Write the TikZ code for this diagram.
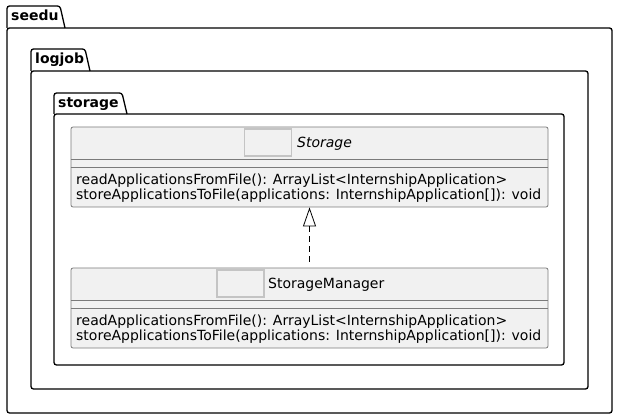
\documentclass[tikz,border=0pt]{standalone}
\usepackage{fontspec}
\setmainfont{DejaVu Sans}
\usetikzlibrary{arrows.meta,positioning}

\definecolor{umlfill}{HTML}{F1F1F1}
\definecolor{umlline}{HTML}{7A7A7A}
\definecolor{iconline}{HTML}{C4C4C4}

\tikzset{
  pkgframe/.style={line width=1.3pt, rounded corners=2.5pt},
  pkgname/.style={anchor=base west, inner sep=0pt, font=\fontsize{14}{16}\selectfont\bfseries},
  classbox/.style={draw=umlline, fill=umlfill, line width=0.8pt, rounded corners=2pt,
    minimum width=477pt, minimum height=80pt, inner sep=0pt},
  iconbox/.style={draw=iconline, fill=umlfill, line width=1.4pt,
    minimum width=47pt, minimum height=27pt, inner sep=0pt},
  member/.style={anchor=base west, inner sep=0pt, font=\fontsize{14}{15}\selectfont},
  realize/.style={dash pattern=on 6pt off 4pt, line width=0.8pt, shorten <=6pt,
    -{Triangle[open,length=19pt,width=13pt,line width=0.8pt]}}
}

\begin{document}
\begin{tikzpicture}[x=1pt,y=-1pt]
  \useasboundingbox (0,0) rectangle (618,419);

  % Packages
  \foreach \px/\ty/\fy/\tx/\rx/\by/\pname in
    {7/6/28/60/612/413/seedu, 31/49/71/85/588/389/logjob, 54/93/114/122/564/365/storage}
  {
    \draw[pkgframe] (\px,\fy) -- (\px,\ty) -- (\tx,\ty) -- (\tx+5,\fy);
    \draw[pkgframe] (\px,\fy) rectangle (\rx,\by);
    \node[pkgname] (pkg-\pname) at (\px+4,\ty+15) {\pname};
  }

  % Interface Storage
  \node[classbox] (storage) at (309.5,167) {};
  \draw[umlline, line width=0.8pt] (storage.west |- 0,159) -- (storage.east |- 0,159);
  \draw[umlline, line width=0.8pt] (storage.west |- 0,167) -- (storage.east |- 0,167);
  \node[iconbox] (storage-icon) at (268,142.5) {};
  \node[member, font=\fontsize{14}{15}\selectfont\itshape] (storage-name) at (297,148) {Storage};
  \node[member] (storage-read) at (76,185) {readApplicationsFromFile(): ArrayList<InternshipApplication>};
  \node[member] (storage-store) at (76,200) {storeApplicationsToFile(applications: InternshipApplication[]): void};

  % Class StorageManager
  \node[classbox] (manager) at (309.5,308) {};
  \draw[umlline, line width=0.8pt] (manager.west |- 0,300) -- (manager.east |- 0,300);
  \draw[umlline, line width=0.8pt] (manager.west |- 0,308) -- (manager.east |- 0,308);
  \node[iconbox] (manager-icon) at (240.5,283.5) {};
  \node[member] (manager-name) at (268,289) {StorageManager};
  \node[member] (manager-read) at (76,326) {readApplicationsFromFile(): ArrayList<InternshipApplication>};
  \node[member] (manager-store) at (76,341) {storeApplicationsToFile(applications: InternshipApplication[]): void};

  % Realization
  \draw[realize] (manager) -- (storage);

\end{tikzpicture}
\end{document}
